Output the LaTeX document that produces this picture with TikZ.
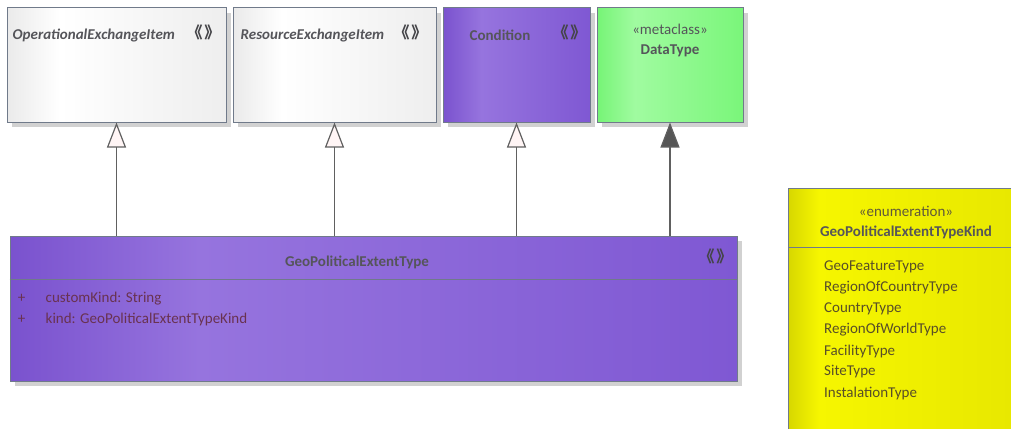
\documentclass[tikz,border=0pt]{standalone}
\usepackage{fontspec}
\setmainfont{Carlito}
\newfontfamily\cjk{Noto Sans CJK SC}
\usetikzlibrary{arrows.meta,shadows}
\definecolor{edgegray}{RGB}{112,122,138}
\definecolor{linegray}{RGB}{96,96,96}
\definecolor{grayA}{RGB}{234,234,234}
\definecolor{grayC}{RGB}{238,238,238}
\definecolor{purpleA}{RGB}{122,82,206}
\definecolor{purpleB}{RGB}{150,116,222}
\definecolor{purpleC}{RGB}{127,88,211}
\definecolor{greenA}{RGB}{118,244,118}
\definecolor{greenB}{RGB}{160,251,160}
\definecolor{greenC}{RGB}{122,246,122}
\definecolor{yellowA}{RGB}{215,215,0}
\definecolor{yellowB}{RGB}{246,246,0}
\definecolor{yellowC}{RGB}{230,230,0}
\definecolor{txtgray}{RGB}{85,85,90}
\definecolor{attrred}{RGB}{105,50,80}
\definecolor{enumtxt}{RGB}{88,78,40}
\pgfdeclarehorizontalshading{grayshade}{100bp}{color(0bp)=(grayA); color(25bp)=(grayA); color(37bp)=(white); color(75bp)=(grayC); color(100bp)=(grayC)}
\pgfdeclarehorizontalshading{purpleshade}{100bp}{color(0bp)=(purpleA); color(25bp)=(purpleA); color(38bp)=(purpleB); color(75bp)=(purpleC); color(100bp)=(purpleC)}
\pgfdeclarehorizontalshading{greenshade}{100bp}{color(0bp)=(greenA); color(25bp)=(greenA); color(38bp)=(greenB); color(75bp)=(greenC); color(100bp)=(greenC)}
\pgfdeclarehorizontalshading{yellowshade}{100bp}{color(0bp)=(yellowA); color(25bp)=(yellowA); color(31bp)=(yellowB); color(75bp)=(yellowC); color(100bp)=(yellowC)}
\begin{document}
\begin{tikzpicture}
\useasboundingbox (0,0) rectangle (1011pt,-428pt);
\tikzstyle{classnode} = [rectangle,draw=edgegray,line width=1pt,inner sep=0pt,drop shadow={shadow xshift=5pt,shadow yshift=-5pt,fill=black!18,opacity=1}]
\tikzstyle{umltext} = [inner sep=0pt,text=txtgray,font=\fontsize{15}{18}\selectfont]
\tikzstyle{stereo} = [inner sep=0pt,text=txtgray!80!black,font=\cjk\bfseries\fontsize{16}{18}\selectfont]
\tikzstyle{genline} = [draw=linegray,line width=1.2pt]
% top row: parents
\node [classnode,shading=grayshade,minimum width=219pt,minimum height=114pt] (oei) at (116.5pt,-65pt){};
\node [classnode,shading=grayshade,minimum width=203pt,minimum height=114pt] (rei) at (334.5pt,-65pt){};
\node [classnode,shading=purpleshade,minimum width=147pt,minimum height=114pt] (cond) at (516.5pt,-65pt){};
\node [classnode,shading=greenshade,minimum width=146pt,minimum height=114pt] (dtype) at (670pt,-65pt){};
\node [umltext,anchor=west,font=\fontsize{15}{18}\selectfont\bfseries\itshape] (oei_n) at ([xshift=6pt,yshift=-28pt]oei.north west){OperationalExchangeItem};
\node [stereo] (oei_s) at ([xshift=-23pt,yshift=-25pt]oei.north east){《\kern0.12em》};
\node [umltext,anchor=west,font=\fontsize{15}{18}\selectfont\bfseries\itshape] (rei_n) at ([xshift=8pt,yshift=-28pt]rei.north west){ResourceExchangeItem};
\node [stereo] (rei_s) at ([xshift=-26pt,yshift=-25pt]rei.north east){《\kern0.12em》};
\node [umltext,font=\fontsize{15}{18}\selectfont\bfseries] (cond_n) at ([xshift=-16.5pt,yshift=-28pt]cond.north){Condition};
\node [stereo] (cond_s) at ([xshift=-21pt,yshift=-25pt]cond.north east){《\kern0.12em》};
\node [umltext] (dtype_s) at ([yshift=-22pt]dtype.north){«metaclass»};
\node [umltext,font=\fontsize{15}{18}\selectfont\bfseries] (dtype_n) at ([yshift=-43pt]dtype.north){DataType};
%%%%%%%%%%%%%%%%%%%%%%%%%%%%%
% GeoPoliticalExtentType
%%%%%%%%%%%%%%%%%%%%%%%%%%%%%
\node [classnode,shading=purpleshade,minimum width=727pt,minimum height=145pt] (geo) at (373.5pt,-308.5pt){};
\draw [draw=edgegray,line width=1pt] ([yshift=-44pt]geo.north west) -- ([yshift=-44pt]geo.north east);
\node [umltext,font=\fontsize{15}{18}\selectfont\bfseries] (geo_n) at ([xshift=-16.5pt,yshift=-27pt]geo.north){GeoPoliticalExtentType};
\node [stereo] (geo_s) at ([xshift=-22pt,yshift=-21pt]geo.north east){《\kern0.12em》};
\node [umltext,text=attrred] (geo_p1) at ([xshift=12pt,yshift=-63pt]geo.north west){+};
\node [umltext,text=attrred,anchor=west] (geo_a1) at ([xshift=36pt,yshift=-63pt]geo.north west){customKind: String};
\node [umltext,text=attrred] (geo_p2) at ([xshift=12pt,yshift=-84pt]geo.north west){+};
\node [umltext,text=attrred,anchor=west] (geo_a2) at ([xshift=36pt,yshift=-84pt]geo.north west){kind: GeoPoliticalExtentTypeKind};
% generalizations
\draw [genline,-{Triangle[width=19pt,length=25pt,fill=red!4,line width=1.2pt]}] (oei.south |- geo.north) -- (oei.south);
\draw [genline,-{Triangle[width=19pt,length=25pt,fill=red!4,line width=1.2pt]}] (rei.south |- geo.north) -- (rei.south);
\draw [genline,-{Triangle[width=19pt,length=25pt,fill=red!4,line width=1.2pt]}] (cond.south |- geo.north) -- (cond.south);
\draw [genline,-{Triangle[width=19pt,length=25pt,fill=linegray!90!black,line width=1.2pt]}] (dtype.south |- geo.north) -- (dtype.south);
%%%%%%%%%%%%%%%%%%%%%%%%%%%%%
% enumeration
%%%%%%%%%%%%%%%%%%%%%%%%%%%%%
\node [classnode,shading=yellowshade,minimum width=250pt,minimum height=290pt,anchor=north west] (enum) at (788pt,-188pt){};
\draw [draw=edgegray,line width=1pt] ([yshift=-59pt]enum.north west) -- ([yshift=-59pt]enum.north east);
\node [umltext,text=enumtxt!80!gray] (enum_s) at ([xshift=118pt,yshift=-23pt]enum.north west){«enumeration»};
\node [umltext,text=txtgray,font=\fontsize{15}{18}\selectfont\bfseries] (enum_n) at ([xshift=118pt,yshift=-44pt]enum.north west){GeoPoliticalExtentTypeKind};
\node [umltext,text=enumtxt,anchor=west] (e1) at ([xshift=36pt,yshift=-79pt]enum.north west){GeoFeatureType};
\node [umltext,text=enumtxt,anchor=west] (e2) at ([xshift=36pt,yshift=-100pt]enum.north west){RegionOfCountryType};
\node [umltext,text=enumtxt,anchor=west] (e3) at ([xshift=36pt,yshift=-121pt]enum.north west){CountryType};
\node [umltext,text=enumtxt,anchor=west] (e4) at ([xshift=36pt,yshift=-142pt]enum.north west){RegionOfWorldType};
\node [umltext,text=enumtxt,anchor=west] (e5) at ([xshift=36pt,yshift=-163pt]enum.north west){FacilityType};
\node [umltext,text=enumtxt,anchor=west] (e6) at ([xshift=36pt,yshift=-184pt]enum.north west){SiteType};
\node [umltext,text=enumtxt,anchor=west] (e7) at ([xshift=36pt,yshift=-205pt]enum.north west){InstalationType};
\end{tikzpicture}
\end{document}
